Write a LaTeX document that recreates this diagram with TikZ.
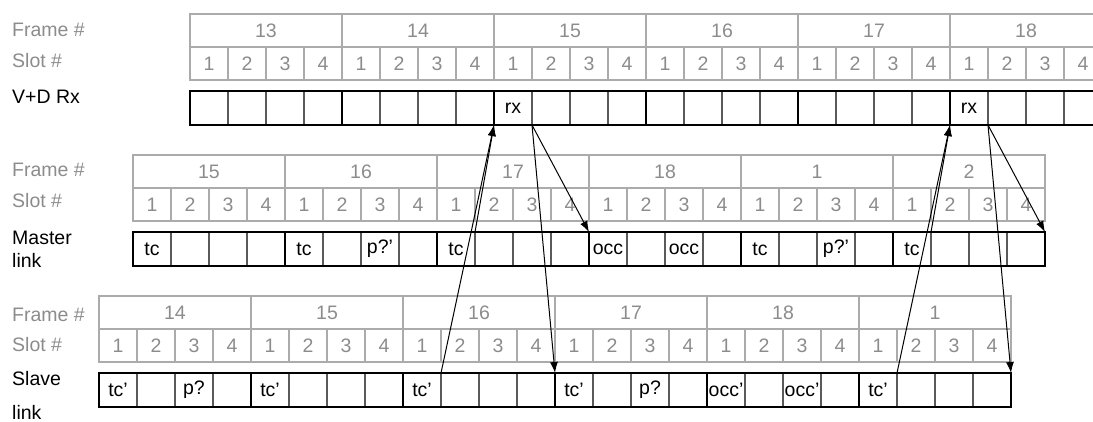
\documentclass[tikz,border=0pt]{standalone}
\usepackage{fontspec}
\setmainfont{Liberation Sans}
\usetikzlibrary{arrows.meta}
\definecolor{hdline}{HTML}{ABABAB}
\definecolor{hdtext}{HTML}{8C8C8C}
\definecolor{slotline}{HTML}{5A5A5A}

\begin{document}
\begin{tikzpicture}[x=1pt, y=-1pt, font=\fontsize{19.5}{23}\selectfont,
    hd/.style={draw=hdline, line width=1.2pt, text=hdtext, minimum height=33pt,
      inner sep=0pt, outer sep=0pt, anchor=north west},
    cell/.style={draw=slotline, line width=1.2pt, minimum width=38pt,
      minimum height=34pt, inner sep=0pt, outer sep=0pt, anchor=north west},
    frm/.style={line width=2pt},
    lbl/.style={anchor=base west, inner sep=0pt},
    >={Latex[length=11pt,width=8pt]}]
  \path[use as bounding box, clip] (0,0) rectangle (1093,422);
  % three timelines: header rows and slot cells
  \foreach \b/\x/\y/\fl in {vd/190/14/{13,14,15,16,17,18},
      ms/133/155/{15,16,17,18,1,2}, sl/99/296/{14,15,16,17,18,1}} {
    \foreach \f [count=\i from 0] in \fl {
      \node[hd, minimum width=152pt] (\b-f\i) at (\x+\i*152, \y) {\f};
      \foreach \s in {1,...,4} {
        \node[hd, minimum width=38pt] (\b-h\i-\s) at (\x+\i*152+\s*38-38, \y+33) {\s};
        \node[cell] (\b-\i-\s) at (\x+\i*152+\s*38-38, \y+77) {};
      }
      \draw[frm] (\b-\i-1.north west) rectangle (\b-\i-4.south east);
    }
  }
  % slot contents
  \foreach \c/\lab in {vd-2-1/rx, vd-5-1/rx,
      ms-0-1/tc, ms-1-1/tc, ms-1-3/p?', ms-2-1/tc, ms-3-1/occ, ms-3-3/occ,
      ms-4-1/tc, ms-4-3/p?', ms-5-1/tc,
      sl-0-1/tc', sl-0-3/p?, sl-1-1/tc', sl-2-1/tc', sl-3-1/tc', sl-3-3/p?,
      sl-4-1/occ', sl-4-3/occ', sl-5-1/tc'}
    \node (t\c) at (\c) {\lab};
  % row labels
  \node[lbl, text=hdtext] (vd-fr) at (12,37) {Frame \#};
  \node[lbl, text=hdtext] (vd-sn) at (12,68) {Slot \#};
  \node[lbl] (vd-nm) at (12,104) {V+D Rx};
  \node[lbl, text=hdtext] (ms-fr) at (12,177) {Frame \#};
  \node[lbl, text=hdtext] (ms-sn) at (12,208) {Slot \#};
  \node[lbl] (ms-nm) at (12,245) {Master};
  \node[lbl] (ms-nm2) at (12,268) {link};
  \node[lbl, text=hdtext] (sl-fr) at (12,322) {Frame \#};
  \node[lbl, text=hdtext] (sl-sn) at (12,352) {Slot \#};
  \node[lbl] (sl-nm) at (12,385) {Slave};
  \node[lbl] (sl-nm2) at (12,419) {link};
  % timing arrows
  \draw[->, line width=1pt] (ms-2-1.north east) -- (vd-2-1.south west);
  \draw[->, line width=1pt] (sl-2-1.north east) -- (vd-2-1.south west);
  \draw[->, line width=1pt] (vd-2-1.south east) -- (ms-3-1.north west);
  \draw[->, line width=1pt] (vd-2-1.south east) -- (sl-3-1.north west);
  \draw[->, line width=1pt] (ms-5-1.north east) -- (vd-5-1.south west);
  \draw[->, line width=1pt] (sl-5-1.north east) -- (vd-5-1.south west);
  \draw[->, line width=1pt] (vd-5-1.south east) -- (ms-5-4.north east);
  \draw[->, line width=1pt] (vd-5-1.south east) -- (sl-5-4.north east);
\end{tikzpicture}
\end{document}
